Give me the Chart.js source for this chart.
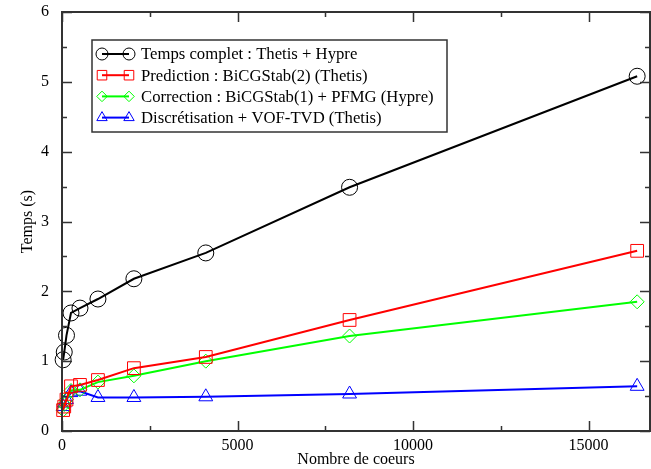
<!DOCTYPE html>
<html>
<head>
<meta charset="utf-8">
<script src="https://cdn.jsdelivr.net/npm/chart.js@4"></script>
<style>
  html, body { margin: 0; padding: 0; background: #fff; }
  #wrap { width: 651px; height: 469px; }
</style>
</head>
<body>
<div id="wrap"><canvas id="chart" width="651" height="469"></canvas></div>
<script>
// Temps par phase en fonction du nombre de coeurs.
const coeurs = [32, 64, 128, 256, 512, 1024, 2048, 4096, 8192, 16384];
const tempsComplet = [1.02, 1.13, 1.37, 1.69, 1.76, 1.89, 2.18, 2.55, 3.49, 5.08];
const prediction = [0.30, 0.35, 0.45, 0.64, 0.66, 0.73, 0.90, 1.06, 1.59, 2.58];
const correction = [0.30, 0.38, 0.45, 0.58, 0.59, 0.70, 0.79, 1.00, 1.36, 1.85];
const discretisation = [0.35, 0.40, 0.45, 0.55, 0.57, 0.48, 0.48, 0.49, 0.53, 0.64];
const labels = [
  "Temps complet : Thetis + Hypre",
  "Prediction : BiCGStab(2) (Thetis)",
  "Correction : BiCGStab(1) + PFMG (Hypre)",
  "Discrétisation + VOF-TVD (Thetis)",
];
const xTicks = [0, 5000, 10000, 15000];
const yTicks = [0, 1, 2, 3, 4, 5, 6];

const FONT = "Liberation Serif";
const pts = (ys) => coeurs.map((x, i) => ({ x, y: ys[i] }));

function serie(label, ys, color, style, r) {
  return {
    label,
    data: pts(ys),
    borderColor: color,
    backgroundColor: "rgba(0,0,0,0)",
    borderWidth: 2,
    pointStyle: style,
    pointRadius: r,
    pointHoverRadius: r,
    pointBorderColor: color,
    pointBorderWidth: 1,
    pointBackgroundColor: "rgba(0,0,0,0)",
    tension: 0,
    clip: 12,
  };
}

// cadre + graduations tournées vers l'intérieur, comme xmgrace
const frame = {
  id: "frame",
  afterLayout(c) {
    // la figure d'origine est rognée : le cadre touche le bord droit
    const x = c.scales.x, a = c.chartArea;
    x.right = c.width - 1;
    x.width = x.right - x.left;
    x.configure();
    a.right = x.right;
    a.width = a.right - a.left;
  },
  afterDatasetsDraw(c) {
    const { ctx, chartArea: a, scales } = c;
    const x = scales.x, y = scales.y;
    ctx.save();
    ctx.strokeStyle = "#333";
    ctx.lineWidth = 2;
    ctx.strokeRect(a.left, a.top, a.right - a.left, a.bottom - a.top);
    ctx.lineWidth = 1.5;
    ctx.beginPath();
    for (let v = 0; v <= x.max; v += 2500) {
      const px = Math.round(x.getPixelForValue(v)) + 0.5;
      const len = v % 5000 === 0 ? 10 : 5;
      ctx.moveTo(px, a.bottom); ctx.lineTo(px, a.bottom - len);
      ctx.moveTo(px, a.top); ctx.lineTo(px, a.top + len);
    }
    for (let v = 0; v <= 6; v += 0.5) {
      const py = Math.round(y.getPixelForValue(v)) + 0.5;
      const len = v % 1 === 0 ? 10 : 5;
      ctx.moveTo(a.left, py); ctx.lineTo(a.left + len, py);
      ctx.moveTo(a.right, py); ctx.lineTo(a.right - len, py);
    }
    ctx.stroke();
    ctx.restore();
  },
  afterDraw(c) {
    // légende encadrée, échantillon de trait avec un marqueur à chaque bout
    const { ctx } = c;
    const bx = 92, by = 40, bw = 355, bh = 92;
    ctx.save();
    ctx.fillStyle = "#fff";
    ctx.fillRect(bx, by, bw, bh);
    ctx.strokeStyle = "#333";
    ctx.lineWidth = 1.5;
    ctx.strokeRect(bx, by, bw, bh);
    ctx.font = "16.7px '" + FONT + "'";
    ctx.textBaseline = "middle";
    c.data.datasets.forEach((d, i) => {
      const ly = 54 + i * 21.2;
      ctx.strokeStyle = d.borderColor;
      ctx.lineWidth = 2;
      ctx.beginPath();
      ctx.moveTo(102, ly); ctx.lineTo(129, ly);
      ctx.stroke();
      ctx.lineWidth = 1;
      ctx.fillStyle = "rgba(0,0,0,0)";
      const opt = { pointStyle: d.pointStyle, radius: d.pointRadius * 0.75, rotation: 0, borderWidth: 1 };
      Chart.helpers.drawPoint(ctx, opt, 102, ly);
      Chart.helpers.drawPoint(ctx, opt, 129, ly);
      ctx.fillStyle = "#000";
      ctx.fillText(d.label, 141, ly + 1);
    });
    ctx.restore();
  },
};

new Chart(document.getElementById("chart").getContext("2d"), {
  type: "line",
  data: {
    datasets: [
      serie(labels[0], tempsComplet, "#000000", "circle", 8),
      serie(labels[1], prediction, "#ff0000", "rect", 9),
      serie(labels[2], correction, "#00ff00", "rectRot", 7),
      serie(labels[3], discretisation, "#0000ff", "triangle", 8),
    ],
  },
  options: {
    responsive: false,
    animation: false,
    events: [],
    layout: { padding: { top: 12, right: 1, left: 0, bottom: 0 } },
    plugins: { legend: { display: false }, tooltip: { enabled: false } },
    scales: {
      x: {
        type: "linear",
        min: 0,
        max: 16750,
        afterBuildTicks: (s) => { s.ticks = xTicks.map((v) => ({ value: v })); },
        afterFit: (s) => { s.height = 38; s.paddingLeft = 0; s.paddingRight = 0; },
        grid: { display: false },
        border: { display: false },
        ticks: { color: "#000", font: { family: FONT, size: 16 }, padding: -3, maxRotation: 0, callback: (v) => String(v) },
        title: { display: true, text: "Nombre de coeurs", color: "#000", font: { family: FONT, size: 16 }, padding: { top: 0, bottom: 0 } },
      },
      y: {
        type: "linear",
        min: 0,
        max: 6,
        afterBuildTicks: (s) => { s.ticks = yTicks.map((v) => ({ value: v })); },
        afterFit: (s) => { s.width = 62; s.paddingTop = 0; s.paddingBottom = 0; },
        grid: { display: false },
        border: { display: false },
        ticks: { color: "#000", font: { family: FONT, size: 16 }, padding: 5, callback: (v) => String(v) },
        title: { display: true, text: "Temps (s)", color: "#000", font: { family: FONT, size: 16 }, padding: { top: 18, bottom: 4 } },
      },
    },
  },
  plugins: [frame],
});
</script>
</body>
</html>
